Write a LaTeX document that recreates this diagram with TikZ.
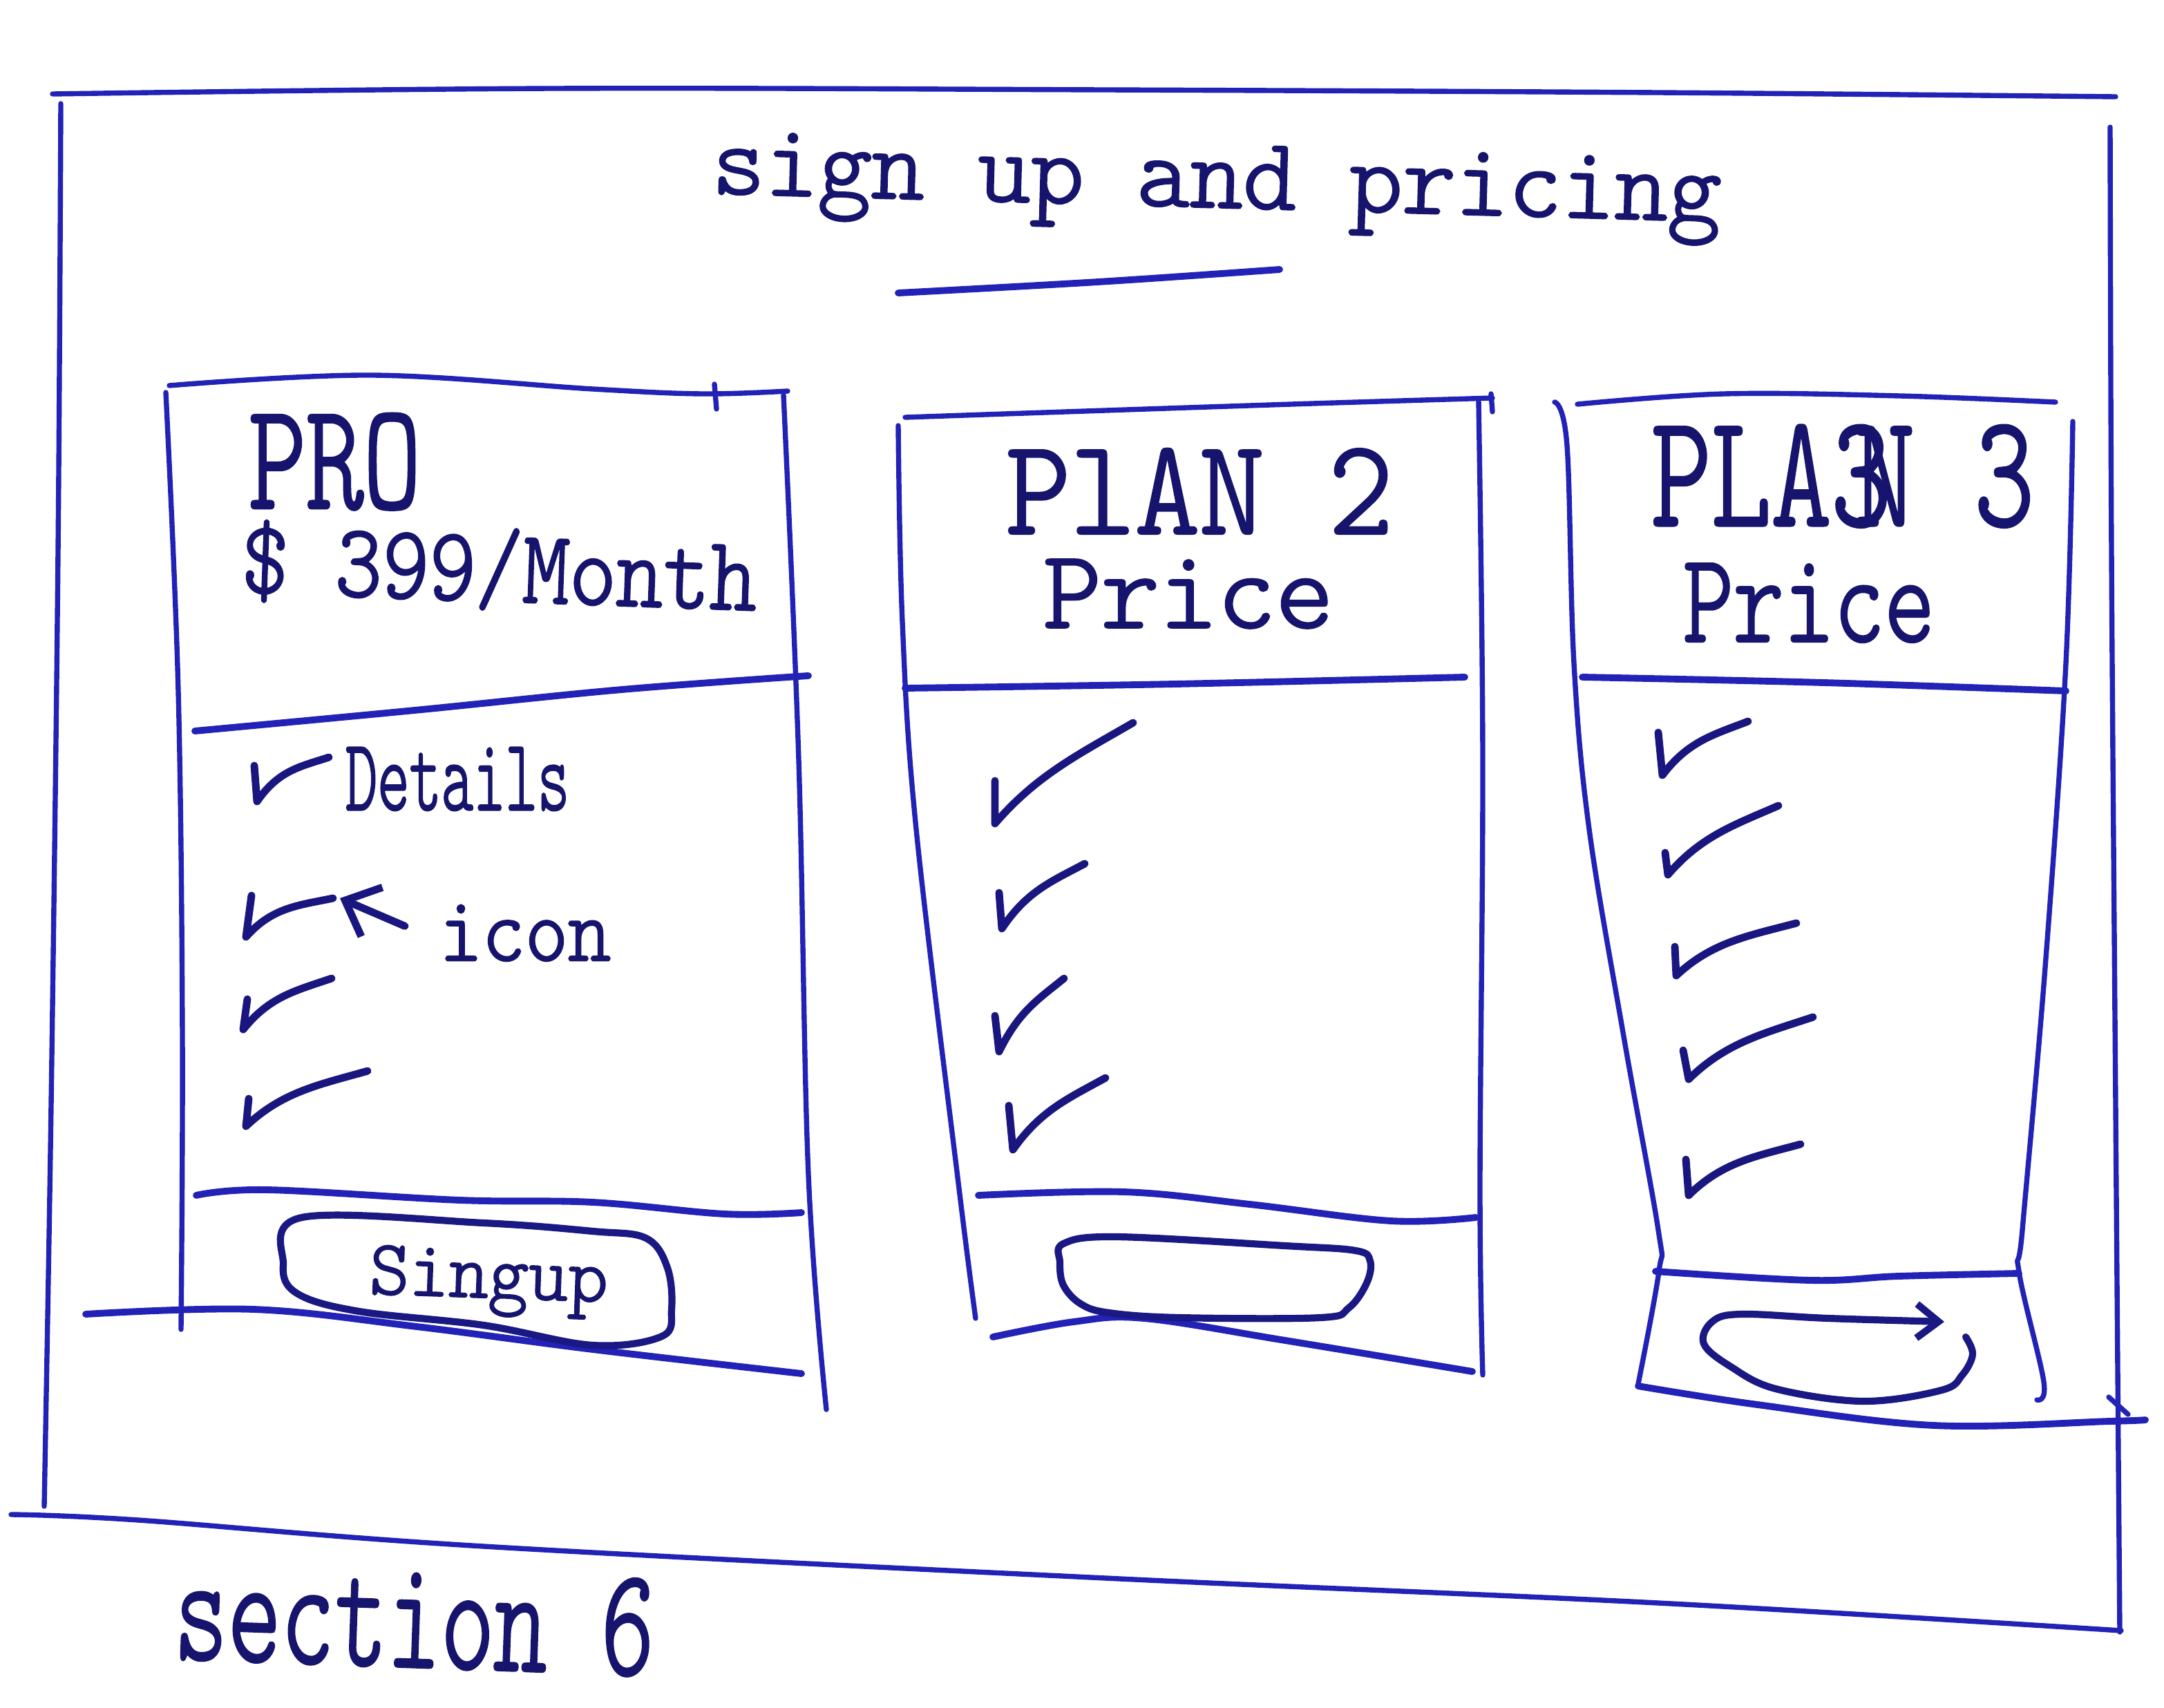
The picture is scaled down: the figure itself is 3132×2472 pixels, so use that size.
\documentclass[tikz,border=0pt]{standalone}
\usepackage{fontspec}
\usepackage{graphicx}
\usetikzlibrary{calc,arrows.meta}
% monoline face that reads like felt-pen printing; bold series is a thickened copy
\newfontfamily\hand[AutoFakeBold=2.2]{lmmonolt10-regular.otf}
\newcommand\pen{\hand\bfseries}
\definecolor{inkline}{RGB}{34,34,182}
\definecolor{inktext}{RGB}{22,20,108}
\tikzset{
  pen/.style={draw=inkline, line width=2.1pt, line cap=round, line join=round},
  heavypen/.style={pen, line width=2.8pt},
  btnpen/.style={draw=inktext!70!inkline, line width=2.9pt, line cap=round, line join=round},
  chkpen/.style={draw=inktext!75!inkline, line width=3.1pt, line cap=round, line join=round},
  hw/.style={inner sep=0pt, outer sep=0pt, text=inktext},
}
% a hand-drawn check: short down stroke, then a long rising stroke that flattens out
\newcommand\tickmark[3]{\draw[chkpen] (#1) -- (#2) .. controls ($(#2)!0.3!(#3)+(0,-26)$) and ($(#2)!0.6!(#3)+(0,-12)$) .. (#3);}
% two stacked hand-lettered lines: first line, x offset, drop, second line
\newcommand\twolines[4]{\rlap{#1}\kern#2\raisebox{-#3}{#4}}

\begin{document}
\begin{tikzpicture}[x=0.01cm, y=-0.01cm]
\fill[white] (0,0) rectangle (3132,2472);
\useasboundingbox (0,0) rectangle (3132,2472);

% ---------- outer section frame ----------
\draw[pen] plot[smooth, tension=0.6] coordinates {(76,136) (800,128) (1600,130) (2400,134) (3062,140)};
\draw[pen] plot[smooth, tension=0.6] coordinates {(88,150) (84,800) (74,1600) (64,2180)};
\draw[pen] plot[smooth, tension=0.6] coordinates {(3054,184) (3056,800) (3062,1600) (3068,2362)};
\draw[pen] plot[smooth, tension=0.6] coordinates {(16,2192) (200,2200) (700,2238) (1600,2284) (2400,2320) (3070,2360)};

% ---------- heading ----------
\node[hw, anchor=base, rotate=-1.6] (title) at (1760,300) {\resizebox{14.6cm}{0.9cm}{\pen sign up and pricing}};
\draw[heavypen] plot[smooth, tension=0.6] coordinates {(1300,424) (1589,408) (1852,390)};

% ---------- card 1: PRO ----------
\draw[pen] plot[smooth, tension=0.6] coordinates {(245,558) (539,543) (858,563) (1017,570) (1140,566)};
\draw[pen] (1034,556) -- (1037,592);
\draw[pen] plot[smooth, tension=0.6] coordinates {(240,568) (258,1000) (264,1500) (262,1924)};
\draw[pen] plot[smooth, tension=0.6] coordinates {(1134,572) (1156,1100) (1170,1700) (1196,2040)};
\draw[heavypen] plot[smooth, tension=0.6] coordinates {(282,1058) (600,1028) (900,998) (1170,978)};
\draw[heavypen] plot[smooth, tension=0.6] coordinates {(284,1730) (386,1722) (666,1737) (858,1740) (1049,1757) (1160,1755)};
\draw[heavypen] plot[smooth, tension=0.6] coordinates {(124,1902) (367,1895) (603,1920) (858,1953) (1160,1988)};
\draw[btnpen] plot[smooth cycle, tension=0.6] coordinates {(437,1762) (700,1770) (858,1782) (935,1792) (966,1835) (972,1895) (958,1934) (858,1947) (700,1918) (520,1898) (430,1872) (410,1830)};

\node[hw, anchor=base west] (pro) at (360,735) {\twolines{\resizebox{2.49cm}{1.36cm}{\pen PRO}}{-0.12cm}{1.22cm}{\rotatebox{-2}{\resizebox{7.46cm}{1.05cm}{\pen \$ 399/Month}}}};
\node[hw, anchor=base west] (details) at (500,1172) {\resizebox{3.24cm}{0.9cm}{\pen Details}};
\node[hw, anchor=base west] (icon) at (636,1390) {\resizebox{2.48cm}{0.8cm}{\pen icon}};
\node[hw, anchor=base west, rotate=-2] (signup) at (534,1872) {\resizebox{3.45cm}{0.7cm}{\pen Singup}};

\tickmark{368,1108}{372,1160}{476,1096}
\tickmark{364,1296}{356,1356}{482,1300}
\tickmark{358,1446}{352,1490}{480,1416}
\tickmark{360,1590}{356,1630}{532,1550}

\coordinate (iconTip) at (492,1300);
\draw[chkpen, -{Straight Barb[length=12pt, width=22pt]}] ([xshift=-0.5cm, yshift=0.1cm]icon.west) -- (iconTip);

% ---------- card 2 ----------
\draw[pen] plot[smooth, tension=0.6] coordinates {(1310,604) (1600,594) (1900,584) (2160,576)};
\draw[pen] (2158,570) -- (2160,596);
\draw[pen] plot[smooth, tension=0.6] coordinates {(1300,616) (1306,900) (1326,1200) (1388,1720) (1412,1908)};
\draw[pen] plot[smooth, tension=0.6] coordinates {(2140,580) (2146,1100) (2142,1720) (2146,1990)};
\draw[heavypen] plot[smooth, tension=0.6] coordinates {(1310,996) (1700,990) (2120,980)};
\draw[heavypen] plot[smooth, tension=0.6] coordinates {(1416,1730) (1626,1725) (1809,1743) (2013,1767) (2136,1762)};
\draw[heavypen] plot[smooth, tension=0.6] coordinates {(1437,1935) (1554,1913) (1656,1908) (1860,1940) (2131,1985)};
\draw[btnpen] plot[smooth cycle, tension=0.6] coordinates {(1539,1800) (1615,1790) (1860,1803) (1962,1810) (1983,1825) (1978,1857) (1952,1893) (1911,1907) (1707,1907) (1605,1900) (1564,1887) (1539,1860) (1534,1827)};

\node[hw, anchor=base west] (plantwo) at (1456,772) {\twolines{\resizebox{5.6cm}{1.22cm}{\pen PlAN 2}}{0.54cm}{1.36cm}{\resizebox{4.2cm}{0.98cm}{\pen Price}}};

\tickmark{1440,1130}{1440,1192}{1640,1046}
\tickmark{1446,1292}{1450,1344}{1570,1250}
\tickmark{1440,1470}{1446,1522}{1540,1416}
\tickmark{1460,1600}{1466,1664}{1600,1560}

% ---------- card 3 ----------
\draw[pen] plot[smooth, tension=0.6] coordinates {(2283,585) (2495,570) (2750,573) (2975,582)};
\draw[pen] plot[smooth, tension=0.6] coordinates {(2250,582) (2268,645) (2278,960) (2300,1200) (2350,1500) (2400,1780) (2401,1840) (2371,2003)};
\draw[pen] plot[smooth, tension=0.6] coordinates {(3000,610) (2990,960) (2960,1400) (2927,1780) (2922,1840) (2958,2000) (2948,2026)};
\draw[heavypen] plot[smooth, tension=0.6] coordinates {(2290,980) (2640,988) (2990,1000)};
\draw[heavypen] plot[smooth, tension=0.6] coordinates {(2396,1840) (2621,1853) (2748,1847) (2922,1843)};
\draw[heavypen] plot[smooth, tension=0.6] coordinates {(2371,2006) (2544,2033) (2799,2063) (3054,2057) (3105,2055)};
\draw[pen] (3052,2022) -- (3080,2047);
\draw[btnpen, -{Straight Barb[length=9pt, width=14pt]}] plot[smooth, tension=0.6] coordinates {(2845,1935) (2855,1960) (2840,1990) (2810,2012) (2697,2028) (2570,2010) (2505,1978) (2466,1945) (2478,1913) (2520,1902) (2646,1908) (2814,1913)};

\node[hw, anchor=base west] (planthree) at (2390,760) {\twolines{\resizebox{5.54cm}{1.44cm}{\pen PLA3\kern-0.32em N 3}}{0.46cm}{1.68cm}{\resizebox{3.64cm}{1.12cm}{\pen Price}}};

\tickmark{2400,1060}{2406,1122}{2530,1044}
\tickmark{2410,1234}{2414,1266}{2574,1166}
\tickmark{2424,1370}{2426,1412}{2600,1336}
\tickmark{2436,1520}{2444,1562}{2624,1472}
\tickmark{2440,1678}{2444,1730}{2606,1656}

% ---------- caption ----------
\node[hw, anchor=base west, rotate=-2] (caption) at (251,2400) {\resizebox{6.94cm}{1.38cm}{\pen section 6}};
\end{tikzpicture}
\end{document}
